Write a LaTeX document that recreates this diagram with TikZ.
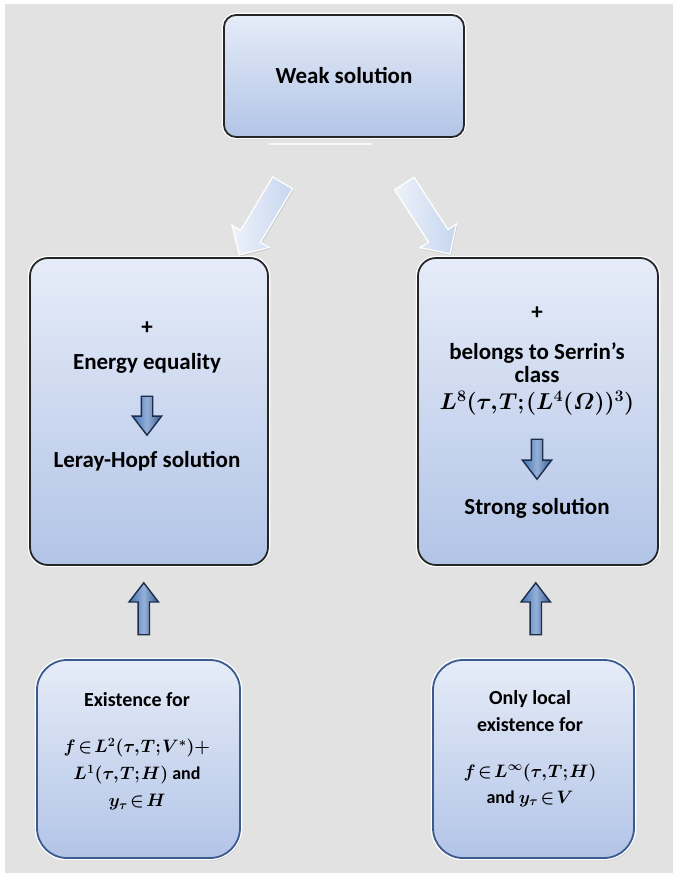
\RequirePackage{fix-cm}
\documentclass[tikz,border=0pt]{standalone}
\usepackage{fontspec}
\setmainfont{Carlito}
\usepackage{amsmath}
\usetikzlibrary{positioning,calc,shapes.arrows,shadows}

\definecolor{bggray}{HTML}{E2E2E2}
\definecolor{boxtop}{HTML}{E6ECF8}
\definecolor{boxbot}{HTML}{B2C4E7}
\definecolor{boxline}{HTML}{262626}
\definecolor{lowline}{HTML}{3A5A90}
\definecolor{arrblue}{HTML}{3F70B5}
\definecolor{arrline}{HTML}{1B2D4B}
\definecolor{diagtop}{HTML}{EEF2FA}
\definecolor{diagbot}{HTML}{C6D6EF}

\newcommand{\tightmu}{\thickmuskip=2mu\relax\medmuskip=1mu\relax\thinmuskip=1mu\relax}

\tikzset{
  solbox/.style={draw=boxline, line width=1.8pt, rounded corners=18pt,
    top color=boxtop, bottom color=boxbot, inner sep=0pt,
    drop shadow={opacity=0.3, shadow xshift=1.5pt, shadow yshift=-2.5pt},
    preaction={draw=white, line width=4.5pt}},
  condbox/.style={solbox, draw=lowline, rounded corners=30pt},
  lbl/.style={font=\fontsize{23}{27}\selectfont\bfseries\boldmath,
    execute at begin node=\tightmu, align=center, inner sep=1pt},
  smalllbl/.style={font=\fontsize{20}{27}\selectfont\bfseries\boldmath,
    execute at begin node=\tightmu, align=center, inner sep=1pt},
  blockarr/.style={single arrow, draw=arrline, line width=1.4pt,
    inner xsep=0pt, inner ysep=5pt,
    left color=arrblue, right color=arrblue!80!black, middle color=arrblue!55!white,
    single arrow head extend=9pt, single arrow tip angle=75},
  diagarr/.style={single arrow, draw=white, line width=1.2pt,
    inner xsep=0pt, inner ysep=11pt,
    left color=diagtop, right color=diagbot,
    drop shadow={opacity=0.25, shadow xshift=1pt, shadow yshift=-1.5pt},
    minimum height=84pt, single arrow head extend=10pt,
    single arrow tip angle=90}
}

\begin{document}
\begin{tikzpicture}[x=1pt, y=-1pt]
    % Background
    \useasboundingbox (0,0) rectangle (677,877);
    \fill[bggray] (5,4) rectangle (673,873);

    % Top box
    \node[solbox, rounded corners=12pt, minimum width=240pt, minimum height=122pt, lbl] (weak) at (344,76) {Weak solution};
    \draw[white!75!bggray, line width=1.5pt] ($(weak.south)+(-75,6)$) -- ($(weak.south)+(28,6)$);

    % Middle boxes
    \node[solbox, minimum width=238pt, minimum height=307pt] (leray) at (149,411.5) {};
    \node[solbox, minimum width=240pt, minimum height=307pt] (strong) at (538,411.5) {};

    % Bottom boxes
    \node[condbox, minimum width=203pt, minimum height=198pt] (exist) at (138.5,759) {};
    \node[condbox, minimum width=201pt, minimum height=198pt] (local) at (533.5,759) {};

    % Arrows from the weak solution
    \node[diagarr, rotate=-121] (toleray) at ($(weak.south)+(-80,76)$) {};
    \node[diagarr, rotate=-57] (tostrong) at ($(weak.south)+(80,76)$) {};

    % Left box
    \node[lbl] (plusL) at (147,328) {+};
    \node[lbl] (energy) at (147,363) {Energy equality};
    \node[lbl] (lerayhopf) at (147,461) {Leray-Hopf solution};
    \node[blockarr, minimum height=39pt, rotate=-90] (implL) at ($(energy)!0.5!(lerayhopf)$) {};

    % Right box
    \node[lbl] (plusR) at (537,313) {+};
    \node[lbl] (serrin) at (537,363) {belongs to Serrin’s\\[-4pt]class};
    \node[lbl] (class) at (537,403) {$L^{8}(\tau,T;(L^{4}(\varOmega))^{3})$};
    \node[lbl] (strongtxt) at (537,508) {Strong solution};
    \node[blockarr, minimum height=40pt, rotate=-90] (implR) at ($(class)!0.5!(strongtxt)$) {};

    % Up arrows
    \node[blockarr, minimum height=52pt, rotate=90] (upL) at ($(exist.north)!0.5!(leray.south)$) {};
    \node[blockarr, minimum height=52pt, rotate=90] (upR) at ($(local.north)!0.5!(strong.south)$) {};

    % Bottom texts
    \node[smalllbl] (existtxt) at (137,700) {Existence for};
    \node[smalllbl, font=\fontsize{18}{27}\selectfont\bfseries\boldmath] (existcond) at (137,774) {$f\in L^{2}(\tau,T;V^{*})+$\\$L^{1}(\tau,T;H)$ and\\$y_{\tau}\in H$};
    \node[smalllbl] (localtxt) at (530,711) {Only local\\existence for};
    \node[smalllbl, font=\fontsize{18}{26}\selectfont\bfseries\boldmath] (localcond) at (530,785) {$f\in L^{\infty}(\tau,T;H)$\\and $y_{\tau}\in V$};
\end{tikzpicture}
\end{document}
